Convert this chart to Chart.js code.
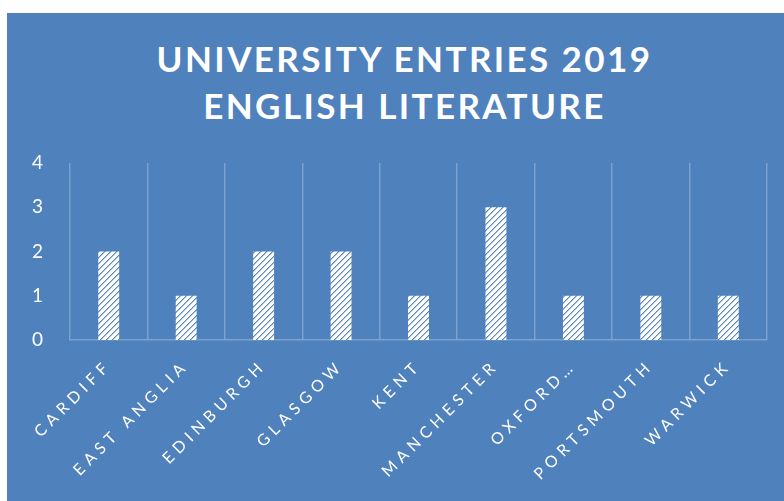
<!DOCTYPE html>
<html>
<head>
<meta charset="utf-8">
<script src="https://cdn.jsdelivr.net/npm/chart.js@4"></script>
<style>
  body { margin: 0; background: #fff; }
  #box { position: absolute; left: 7px; top: 13px; width: 777px; height: 488px; background: #4f81bd; }
  #title { position: absolute; left: 0; top: 22px; width: 100%; text-align: center; color: #fff;
           font-family: Lato, sans-serif; font-weight: bold; font-size: 35px; line-height: 47px; letter-spacing: 2.4px; padding-left: 18px; box-sizing: border-box; }
  #wrap { position: absolute; left: 0; top: 0; width: 777px; height: 488px; }
</style>
</head>
<body>
<div id="box">
  <div id="title">UNIVERSITY ENTRIES 2019<br>ENGLISH LITERATURE</div>
  <div id="wrap"><canvas id="myChart"></canvas></div>
</div>
<script>
// data
var universities = ['CARDIFF', 'EAST ANGLIA', 'EDINBURGH', 'GLASGOW', 'KENT', 'MANCHESTER', 'OXFORD…', 'PORTSMOUTH', 'WARWICK'];
var entries = [2, 1, 2, 2, 1, 3, 1, 1, 1];
var yTicks = [0, 1, 2, 3, 4];

// hatch fill, white with blue upward diagonals
function makeHatch() {
  var c = document.createElement('canvas');
  c.width = 6; c.height = 6;
  var g = c.getContext('2d');
  g.fillStyle = '#ffffff';
  g.fillRect(0, 0, 6, 6);
  for (var i = 0; i < 6; i++) {
    g.fillStyle = '#5a8ac4';
    g.fillRect(i, 5 - i, 1, 1);
    g.fillStyle = '#a9c2e2';
    g.fillRect(i, (6 - i) % 6, 1, 1);
  }
  return g.createPattern(c, 'repeat');
}

// spaced out axis letters
var spacing = {
  id: 'spacing',
  beforeLayout: function(chart) { chart.ctx.letterSpacing = '5px'; },
  beforeDraw: function(chart) { chart.ctx.letterSpacing = '5px'; }
};

var ctx = document.getElementById('myChart').getContext('2d');
var myChart = new Chart(ctx, {
  type: 'bar',
  data: {
    labels: universities,
    datasets: [{
      label: 'Entries',
      data: entries,
      backgroundColor: makeHatch(),
      borderWidth: 0,
      barPercentage: 0.27,
      categoryPercentage: 1
    }]
  },
  options: {
    responsive: true,
    maintainAspectRatio: false,
    animation: false,
    layout: { padding: { top: 150, right: 17, bottom: 0, left: 0 } },
    plugins: { legend: { display: false }, tooltip: { enabled: false } },
    scales: {
      x: {
        grid: { color: '#7ba1ce', lineWidth: 1.5, drawTicks: false, offset: true },
        border: { color: '#7ba1ce', width: 1.5 },
        ticks: {
          color: '#ffffff', minRotation: 45, maxRotation: 45, autoSkip: false, padding: 16,
          font: { family: 'Lato', size: 16 }
        },
        afterFit: function(scale) { scale.height = 161; }
      },
      y: {
        min: 0, max: 4,
        afterBuildTicks: function(scale) { scale.ticks = yTicks.map(function(v) { return { value: v }; }); },
        grid: { display: false },
        border: { display: false },
        ticks: { color: '#ffffff', padding: 14, font: { family: 'Lato', size: 19 } },
        afterFit: function(scale) { scale.width = 63; }
      }
    }
  },
  plugins: [spacing]
});
</script>
</body>
</html>
